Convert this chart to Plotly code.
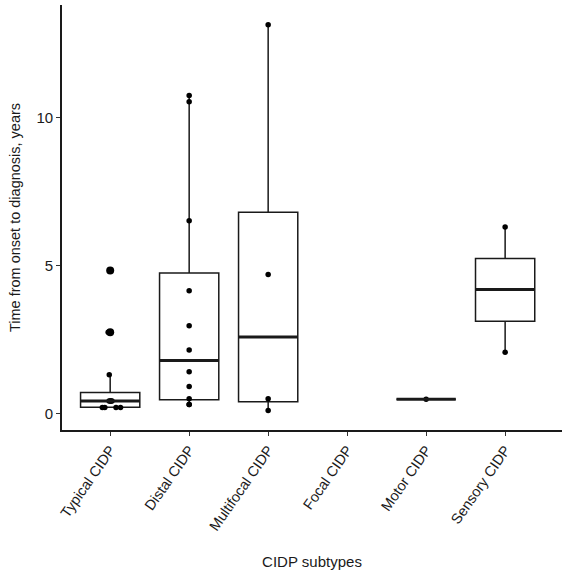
import plotly.graph_objects as go

categories = ["Typical CIDP", "Distal CIDP", "Multifocal CIDP", "Focal CIDP", "Motor CIDP", "Sensory CIDP"]

# Box statistics (years), one entry per category with data (Focal CIDP has none)
box_cats = ["Typical CIDP", "Distal CIDP", "Multifocal CIDP", "Motor CIDP", "Sensory CIDP"]
q1 = [0.21, 0.46, 0.40, 0.48, 3.12]
median = [0.42, 1.79, 2.59, 0.48, 4.19]
q3 = [0.71, 4.75, 6.81, 0.48, 5.24]
lower_whisker = [0.20, 0.30, 0.10, 0.48, 2.07]
upper_whisker = [1.31, 10.76, 13.15, 0.48, 6.31]

# Individual observations per subtype
points = {
    "Typical CIDP": [0.20, 0.20, 0.20, 0.20, 0.42, 0.42, 0.42, 0.42, 1.31, 2.75, 4.84],
    "Distal CIDP": [0.30, 0.30, 0.50, 0.91, 1.41, 2.15, 2.97, 4.15, 6.52, 10.55, 10.76],
    "Multifocal CIDP": [0.10, 0.50, 4.70, 13.15],
    "Focal CIDP": [],
    "Motor CIDP": [0.48],
    "Sensory CIDP": [2.07, 6.31],
}
# Outliers flagged by the boxplot
outlier_cats = ["Typical CIDP", "Typical CIDP"]
outlier_vals = [2.75, 4.84]

y_ticks = [0, 5, 10]

BOX_W = 0.75
FONT = "Liberation Sans, Arial, sans-serif"
idx = {c: i for i, c in enumerate(categories)}

fig = go.Figure()

fig.add_trace(go.Box(
    x=[idx[c] for c in box_cats],
    q1=q1, median=median, q3=q3,
    lowerfence=lower_whisker, upperfence=upper_whisker,
    width=BOX_W, whiskerwidth=0,
    fillcolor="white",
    line=dict(color="#1a1a1a", width=1.5),
    boxpoints=False, showlegend=False, hoverinfo="skip",
))

# thicker median lines
for c, m in zip(box_cats, median):
    i = idx[c]
    fig.add_trace(go.Scatter(
        x=[i - BOX_W / 2, i + BOX_W / 2], y=[m, m], mode="lines",
        line=dict(color="#1a1a1a", width=3), showlegend=False, hoverinfo="skip",
    ))

# observation dots
for c, vals in points.items():
    if not vals:
        continue
    fig.add_trace(go.Box(
        y=vals, x0=idx[c], width=BOX_W,
        boxpoints="all", jitter=0.45 if c == "Typical CIDP" else 0.0, pointpos=0,
        fillcolor="rgba(0,0,0,0)", line=dict(width=0, color="rgba(0,0,0,0)"),
        marker=dict(color="black", size=5.5),
        showlegend=False, hoverinfo="skip",
    ))

fig.add_trace(go.Scatter(
    x=[idx[c] for c in outlier_cats], y=outlier_vals, mode="markers",
    marker=dict(color="black", size=8), showlegend=False, hoverinfo="skip",
))

fig.update_layout(
    width=567, height=574,
    margin=dict(l=62, r=5, t=5, b=144),
    paper_bgcolor="white", plot_bgcolor="white",
    font=dict(family=FONT, size=14, color="#1a1a1a"),
    boxmode="overlay",
)
fig.update_xaxes(
    range=[-0.61, 5.72],
    tickmode="array", tickvals=list(range(len(categories))), ticktext=categories,
    tickangle=-55, ticks="outside", ticklen=4, tickcolor="#333",
    showline=True, linecolor="#1a1a1a", linewidth=1.6,
    showgrid=False, zeroline=False,
    tickfont=dict(size=14.5, color="#1a1a1a"),
    title=dict(text="CIDP subtypes", standoff=24, font=dict(size=15)),
)
fig.update_yaxes(
    range=[-0.56, 13.82],
    tickmode="array", tickvals=y_ticks,
    ticks="outside", ticklen=4, tickcolor="#333",
    showline=True, linecolor="#1a1a1a", linewidth=1.6,
    showgrid=False, zeroline=False,
    tickfont=dict(size=15, color="#1a1a1a"),
    title=dict(text="Time from onset to diagnosis, years", standoff=12, font=dict(size=14.5)),
)

fig.write_html("out.html")
